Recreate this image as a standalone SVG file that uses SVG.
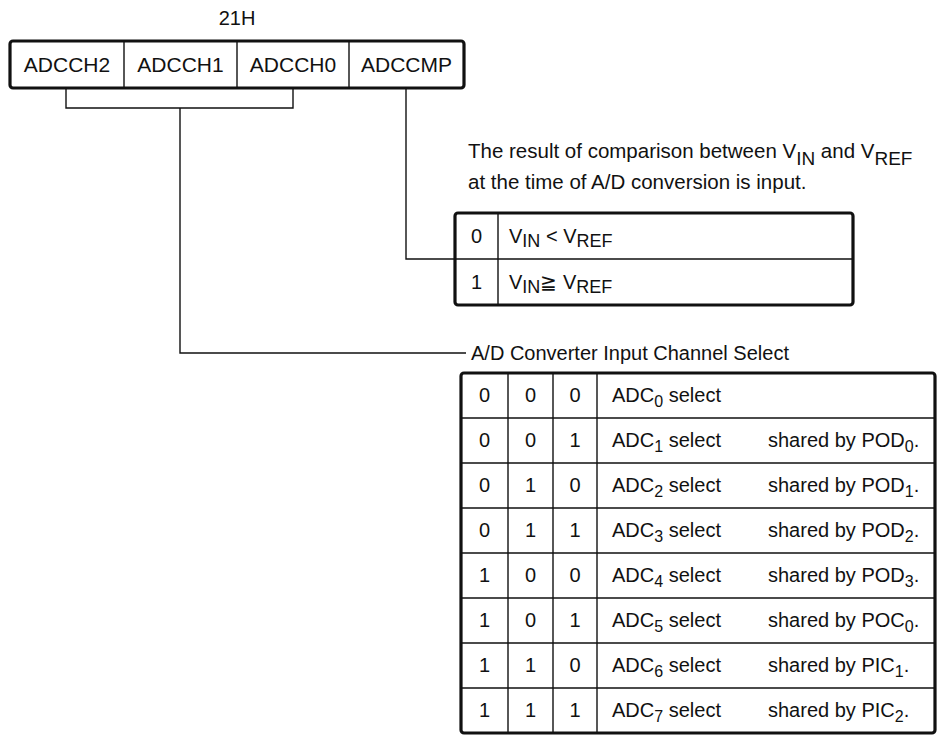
<svg xmlns="http://www.w3.org/2000/svg" width="944" height="736" viewBox="0 0 944 736">
<style>
text{font-family:"Liberation Sans",Arial,sans-serif;fill:#111;font-size:20px}
.reg{font-size:21px}
.desc{font-size:20.5px}
.c{text-anchor:middle}
.sub{font-size:16px}
.outer{fill:none;stroke:#111;stroke-width:3.2}
.inner{stroke:#111;stroke-width:1.4;fill:none}
.conn{stroke:#111;stroke-width:1.4;fill:none}
</style>
<rect width="944" height="736" fill="#fff"/>
<g id="title"><text class="c" x="237" y="25">21H</text></g>
<g id="register">
<rect class="outer" x="10" y="41" width="454" height="47" rx="3"/>
<path class="inner" d="M124 41V88M237 41V88M349 41V88"/>
<text class="reg c" x="67" y="72">ADCCH2</text>
<text class="reg c" x="180.5" y="72">ADCCH1</text>
<text class="reg c" x="293" y="72">ADCCH0</text>
<text class="reg c" x="406.5" y="72">ADCCMP</text>
</g>
<g id="connectors">
<path class="conn" d="M66 88V108H293V88"/>
<path class="conn" d="M180 108V353H466"/>
<path class="conn" d="M406 88V259H455"/>
</g>
<g id="cmp-desc">
<text class="desc" x="468" y="158">The result of comparison between V<tspan dy="7" font-size="19">IN</tspan><tspan dy="-7"> and V</tspan><tspan dy="7" font-size="19">REF</tspan></text>
<text class="desc" x="468" y="189">at the time of A/D conversion is input.</text>
</g>
<g id="cmp-table">
<rect class="outer" x="455" y="213" width="398" height="92" rx="3"/>
<path class="inner" d="M498 213V305M455 259H853"/>
<text class="c" x="476.5" y="243">0</text>
<text x="509" y="243">V<tspan dy="4" font-size="18">IN</tspan><tspan dy="-4"> &lt; V</tspan><tspan dy="4" font-size="18">REF</tspan></text>
<text class="c" x="476.5" y="289">1</text>
<text x="509" y="289">V<tspan dy="4" font-size="18">IN</tspan><tspan dy="-4">≧ V</tspan><tspan dy="4" font-size="18">REF</tspan></text>
</g>
<g id="ch-label"><text x="471" y="360">A/D Converter Input Channel Select</text></g>
<g id="ch-table">
<rect class="outer" x="461" y="373" width="474" height="360" rx="3"/>
<path class="inner" d="M508 373V733M553 373V733M461 418H935M461 463H935M461 508H935M461 553H935M461 598H935M461 643H935M461 688H935"/>
<path class="inner" stroke-width="2.2" d="M597 373V733"/>
<g class="c">
<text x="484.5" y="402">0</text><text x="530.5" y="402">0</text><text x="575" y="402">0</text>
<text x="484.5" y="447">0</text><text x="530.5" y="447">0</text><text x="575" y="447">1</text>
<text x="484.5" y="492">0</text><text x="530.5" y="492">1</text><text x="575" y="492">0</text>
<text x="484.5" y="537">0</text><text x="530.5" y="537">1</text><text x="575" y="537">1</text>
<text x="484.5" y="582">1</text><text x="530.5" y="582">0</text><text x="575" y="582">0</text>
<text x="484.5" y="627">1</text><text x="530.5" y="627">0</text><text x="575" y="627">1</text>
<text x="484.5" y="672">1</text><text x="530.5" y="672">1</text><text x="575" y="672">0</text>
<text x="484.5" y="717">1</text><text x="530.5" y="717">1</text><text x="575" y="717">1</text>
</g>
<text x="612" y="402">ADC<tspan class="sub" dy="5">0</tspan><tspan dy="-5"> select</tspan></text>
<text x="612" y="447">ADC<tspan class="sub" dy="5">1</tspan><tspan dy="-5"> select</tspan></text>
<text x="612" y="492">ADC<tspan class="sub" dy="5">2</tspan><tspan dy="-5"> select</tspan></text>
<text x="612" y="537">ADC<tspan class="sub" dy="5">3</tspan><tspan dy="-5"> select</tspan></text>
<text x="612" y="582">ADC<tspan class="sub" dy="5">4</tspan><tspan dy="-5"> select</tspan></text>
<text x="612" y="627">ADC<tspan class="sub" dy="5">5</tspan><tspan dy="-5"> select</tspan></text>
<text x="612" y="672">ADC<tspan class="sub" dy="5">6</tspan><tspan dy="-5"> select</tspan></text>
<text x="612" y="717">ADC<tspan class="sub" dy="5">7</tspan><tspan dy="-5"> select</tspan></text>
<text x="768" y="447">shared by POD<tspan class="sub" dy="5">0</tspan><tspan dy="-5">.</tspan></text>
<text x="768" y="492">shared by POD<tspan class="sub" dy="5">1</tspan><tspan dy="-5">.</tspan></text>
<text x="768" y="537">shared by POD<tspan class="sub" dy="5">2</tspan><tspan dy="-5">.</tspan></text>
<text x="768" y="582">shared by POD<tspan class="sub" dy="5">3</tspan><tspan dy="-5">.</tspan></text>
<text x="768" y="627">shared by POC<tspan class="sub" dy="5">0</tspan><tspan dy="-5">.</tspan></text>
<text x="768" y="672">shared by PIC<tspan class="sub" dy="5">1</tspan><tspan dy="-5">.</tspan></text>
<text x="768" y="717">shared by PIC<tspan class="sub" dy="5">2</tspan><tspan dy="-5">.</tspan></text>
</g>
</svg>
